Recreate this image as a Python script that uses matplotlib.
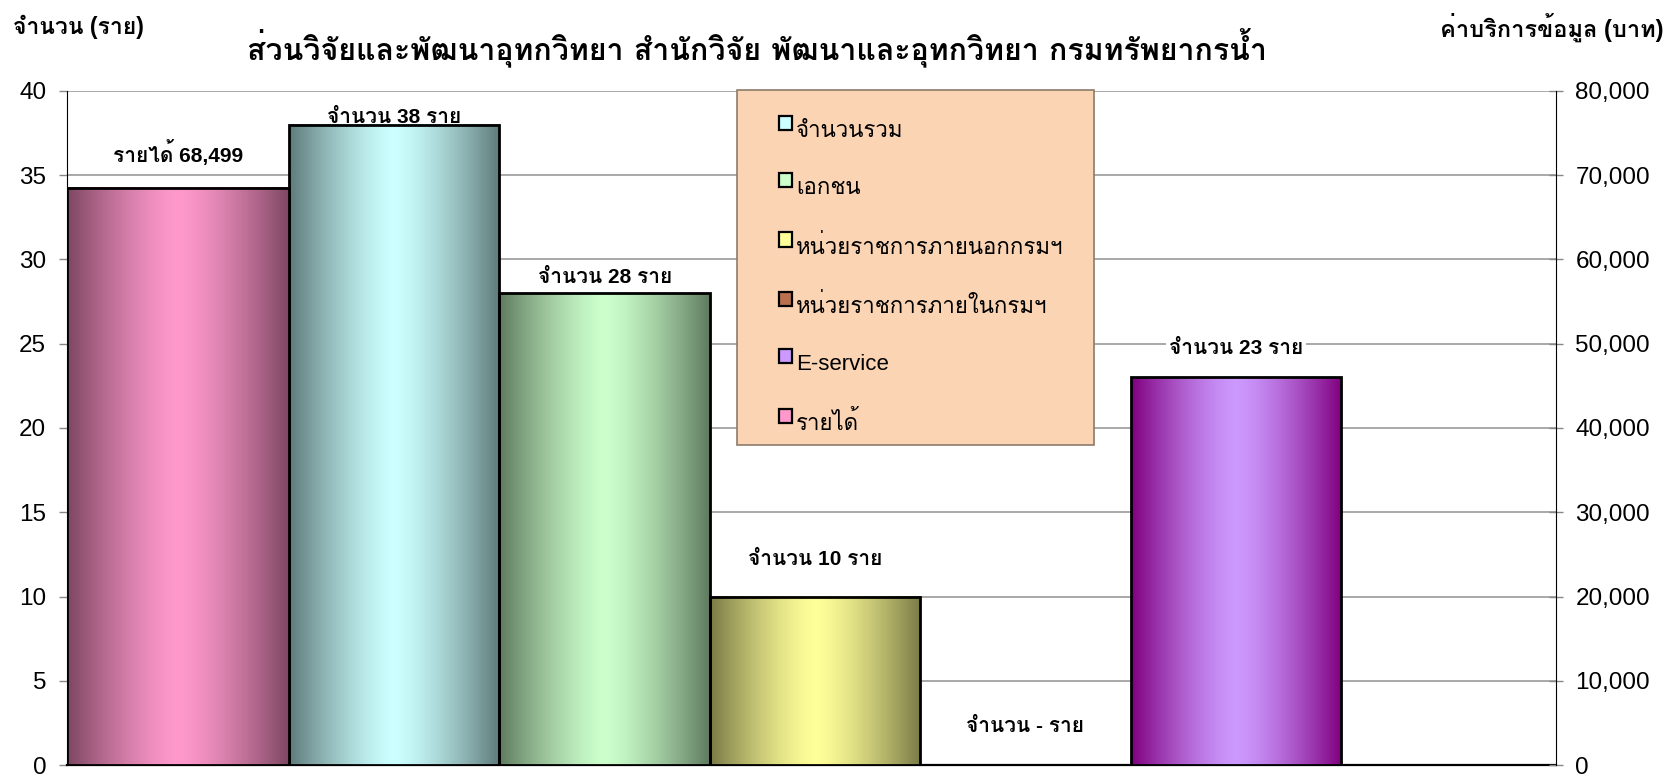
import numpy as np
import matplotlib
matplotlib.use("Agg")
import matplotlib.pyplot as plt
from matplotlib.patches import Patch, Rectangle
from matplotlib.legend_handler import HandlerPatch
from matplotlib.ticker import FuncFormatter, MultipleLocator

# data
series = ["จำนวนรวม", "เอกชน", "หน่วยราชการภายนอกกรมฯ", "หน่วยราชการภายในกรมฯ", "E-service"]
counts = [38, 28, 10, 0, 23]
revenue_label = "รายได้"
revenue = 68499

title = "ส่วนวิจัยและพัฒนาอุทกวิทยา สำนักวิจัย พัฒนาและอุทกวิทยา กรมทรัพยากรน้ำ"
left_title = "จำนวน (ราย)"
right_title = "ค่าบริการข้อมูล (บาท)"

# colours: (light centre, dark edge) of the gradient fill
bar_colors = [("#CCFFFF", "#5F7A7A"), ("#CCFFCC", "#5F7A5F"), ("#FFFF99", "#7A7A47"),
              ("#C9805A", "#6E3A22"), ("#CC99FF", "#800080")]
revenue_color = ("#FF99CC", "#7D4661")
legend_colors = ["#CCFFFF", "#CCFFCC", "#FFFF99", "#B8704F", "#CC99FF", "#FF99CC"]

THAI = ["Liberation Sans", "Loma", "DejaVu Sans"]

# layout
slot_w = 0.989
first_left = 1.044
label_dy = [0.4, 0.95, 2.2, 2.3, 1.7]
revenue_dy = 2.05


def gradient_fill(ax, bar, light, dark):
    x0 = bar.get_x()
    w = bar.get_width()
    h = bar.get_height()
    if h <= 0:
        return
    t = np.linspace(0, 1, 256)
    f = 1 - np.abs(2 * t - 1) ** 1.4
    c1 = np.array(matplotlib.colors.to_rgb(light))
    c0 = np.array(matplotlib.colors.to_rgb(dark))
    img = c0[None, :] + (c1 - c0)[None, :] * f[:, None]
    ax.imshow(img[None, :, :], extent=[x0, x0 + w, 0, h], aspect="auto",
              interpolation="bilinear", zorder=2.9)


# legend squares sit a bit higher than the text, like in Excel
def raised_square(legend, orig_handle, xdescent, ydescent, width, height, fontsize):
    return Rectangle((-xdescent, -ydescent + height * 0.45), width, height)


fig = plt.figure(figsize=(16.73, 7.8), dpi=100)
ax = fig.add_axes([67 / 1673, 15 / 780, (1556 - 67) / 1673, (767 - 93) / 780])
ax2 = ax.twinx()

# primary axis: counts
lefts = [first_left + i * slot_w for i in range(len(counts))]
bars = ax.bar(lefts, counts, width=slot_w, align="edge", facecolor="none",
              edgecolor="black", linewidth=2, zorder=3)
for b, (light, dark) in zip(bars, bar_colors):
    gradient_fill(ax, b, light, dark)
    if b.get_height() <= 0:
        b.set_visible(False)

for b, v, dy in zip(bars, counts, label_dy):
    txt = "จำนวน %s ราย" % (v if v > 0 else "-")
    ax.text(b.get_x() + b.get_width() / 2, v + dy, txt, ha="center", va="center",
            fontsize=15, fontweight="bold", family=THAI, zorder=2.5,
            bbox=dict(facecolor="white", edgecolor="none", pad=2))

# secondary axis: revenue
rbar = ax2.bar([0], [revenue], width=first_left, align="edge", facecolor="none",
               edgecolor="black", linewidth=2, zorder=3)
gradient_fill(ax2, rbar[0], *revenue_color)
ax2.text(first_left / 2, (revenue / 2000 + revenue_dy) * 2000,
         "%s %s" % (revenue_label, format(revenue, ",")), ha="center", va="center",
         fontsize=15, fontweight="bold", family=THAI)

ax.set_xlim(0, 7)
ax.set_ylim(0, 40)
ax2.set_ylim(0, 80000)
ax.yaxis.set_major_locator(MultipleLocator(5))
ax2.yaxis.set_major_locator(MultipleLocator(10000))
ax2.yaxis.set_major_formatter(FuncFormatter(lambda v, p: format(int(v), ",")))

ax.set_xticks([])
ax.grid(axis="y", color="#9A9A9A", linewidth=1.2, zorder=0.5)
ax.set_axisbelow(True)
ax.tick_params(axis="y", direction="out", length=6, width=1, color="#888888",
               labelsize=17.5, pad=9)
ax2.tick_params(axis="y", direction="inout", length=10, width=1, color="#888888",
                labelsize=17.5, pad=9)
for a in (ax, ax2):
    for lab in a.get_yticklabels():
        lab.set_family("Liberation Sans")
    a.spines["top"].set_visible(False)
ax.spines["right"].set_visible(False)
ax2.spines["left"].set_visible(False)
ax2.spines["bottom"].set_visible(False)
ax.spines["left"].set_color("black")
ax.spines["bottom"].set_linewidth(1.6)
ax2.spines["right"].set_color("black")

# titles
fig.text(757 / 1673, 1 - 48 / 780, title, ha="center", va="center", fontsize=21.8,
         fontweight="bold", family=["Loma", "DejaVu Sans"])
fig.text(13 / 1673, 1 - 27 / 780, left_title, ha="left", va="center", fontsize=16.5,
         fontweight="bold", family=THAI)
fig.text(1664 / 1673, 1 - 27 / 780, right_title, ha="right", va="center", fontsize=17,
         fontweight="bold", family=THAI)

# legend box
fig.add_artist(Rectangle((737 / 1673, 1 - 445 / 780), (1094 - 737) / 1673, (445 - 90) / 780,
                         transform=fig.transFigure, facecolor="#FBD4B4",
                         edgecolor="#8C7B6B", linewidth=1.2, zorder=1))
handles = [Patch(facecolor=c, edgecolor="black", linewidth=1.6) for c in legend_colors]
fig.legend(handles, series + [revenue_label], loc="upper left",
           bbox_to_anchor=(768 / 1673, 1 - 110 / 780), frameon=False, borderpad=0,
           handlelength=0.6, handleheight=0.6, handletextpad=0.15, labelspacing=1.61,
           handler_map={Patch: HandlerPatch(patch_func=raised_square)},
           prop=dict(family=THAI, size=16))

fig.savefig("out.png", dpi=100)
